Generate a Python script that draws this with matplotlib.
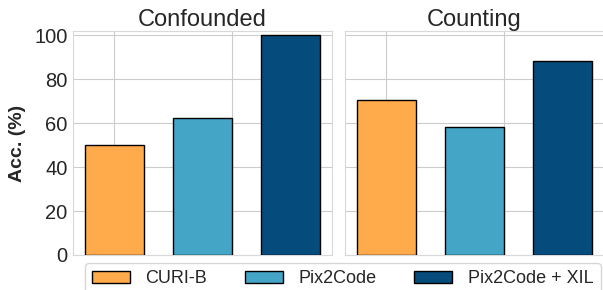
import matplotlib.pyplot as plt
import seaborn as sns

sns.set_style("whitegrid")
plt.rcParams['font.family'] = ['Liberation Sans', 'DejaVu Sans']

tasks = ["Confounded", "Counting"]
methods = ["CURI-B", "Pix2Code", "Pix2Code + XIL"]
colors = ["#FFAA4B", "#44A5C6", "#054B7B"]
acc = {
    "Confounded": [50.0, 62.5, 100.0],
    "Counting": [70.5, 58.3, 88.3],
}
pos = [0, 0.75, 1.5]

fig = plt.figure(figsize=(6.03, 2.9), dpi=100)
ax1 = fig.add_axes([0.121, 0.121, 0.4296, 0.772])
ax2 = fig.add_axes([0.572, 0.121, 0.4296, 0.772], sharey=ax1)

for ax, task in zip([ax1, ax2], tasks):
    bars = ax.bar(pos, acc[task], width=0.5, color=colors,
                  edgecolor="black", linewidth=1, zorder=3)
    ax.set_title(task, fontsize=17, pad=3)
    ax.set_xticks([0, 1])
    ax.set_xticklabels([])
    ax.tick_params(axis="both", length=0, labelsize=14.5, pad=4)
    for s in ax.spines.values():
        s.set_color("0.85")

ax1.set_ylim(0, 102)
ax1.set_yticks([0, 20, 40, 60, 80, 100])
ax1.set_ylabel("Acc. (%)", fontsize=14, fontweight="bold", labelpad=6)
plt.setp(ax2.get_yticklabels(), visible=False)

handles = bars.patches
fig.legend(handles, methods, loc="upper left", bbox_to_anchor=(0.141, 0.093),
           ncol=3, fontsize=13, handlelength=2.1, handleheight=0.67,
           handletextpad=0.85, columnspacing=2.1, frameon=True,
           edgecolor="0.8", fancybox=True, borderaxespad=0)

fig.savefig("out.png", dpi=100)
